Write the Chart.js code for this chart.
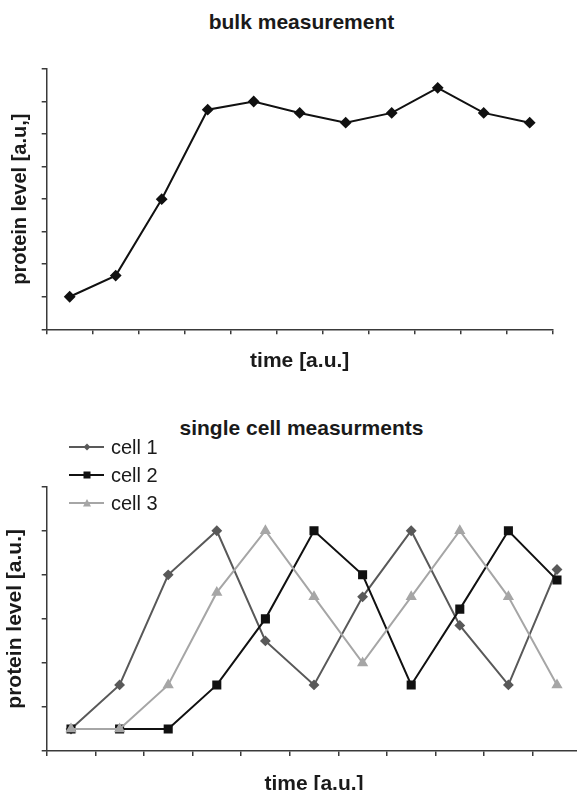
<!DOCTYPE html>
<html>
<head>
<meta charset="utf-8">
<script src="https://cdn.jsdelivr.net/npm/chart.js@4.4.1/dist/chart.umd.min.js"></script>
<style>
    body { margin: 0; background: #fff; overflow: hidden; width: 577px; height: 790px; position: relative; }
    .chart-title { position: absolute; left: 0; width: 603px; text-align: center; font: bold 21px "Liberation Sans", Arial, sans-serif; line-height: 25px; color: #1a1a1a; }
    .chart-box { position: absolute; left: 0; }
    .legend { position: absolute; left: 69px; top: 433px; font: 20px "Liberation Sans", Arial, sans-serif; color: #1a1a1a; }
    .legend-row { display: flex; align-items: center; height: 28px; }
    .legend-row svg { margin-right: 7px; }
</style>
</head>
<body>
<div class="chart-title" style="top: 9px;">bulk measurement</div>
<div class="chart-box" style="top: 0;"><canvas id="bulkChart" width="577" height="395"></canvas></div>

<div class="chart-title" style="top: 415px;">single cell measurments</div>
<div class="chart-box" style="top: 395px;"><canvas id="cellChart" width="600" height="410"></canvas></div>
<div class="legend" id="cellLegend"></div>

<script>
    // values, y in tick units
    const timePoints = ['1', '2', '3', '4', '5', '6', '7', '8', '9', '10', '11'];
    const bulkValues = [1, 1.65, 4, 6.75, 7, 6.65, 6.35, 6.65, 7.42, 6.65, 6.35];
    const cell1Values = [0.5, 1.5, 4, 5, 2.5, 1.5, 3.5, 5, 2.85, 1.5, 4.12];
    const cell2Values = [0.5, 0.5, 0.5, 1.5, 3, 5, 4, 1.5, 3.22, 5, 3.88];
    const cell3Values = [0.5, 0.5, 1.5, 3.6, 5, 3.5, 2, 3.5, 5, 3.5, 1.5];

    const fontFamily = '"Liberation Sans", Arial, sans-serif';
    const axisColor = '#3a3a3a';

    function axisBase() {
        return {
            grid: { display: true, drawOnChartArea: false, drawTicks: true, tickLength: 5, color: axisColor, lineWidth: 1.5 },
            border: { display: true, color: axisColor, width: 1.5 },
            ticks: { display: false }
        };
    }

    function configLineChart(canvasId, datasets, opts) {
        const ctx = document.getElementById(canvasId);
        const xAxis = axisBase();
        xAxis.offset = true;
        xAxis.grid.offset = true;
        xAxis.title = {
            display: true,
            text: 'time [a.u.]',
            color: '#1a1a1a',
            font: { family: fontFamily, size: 21, weight: 'bold' },
            padding: { top: opts.xTitlePad, bottom: 4 }
        };

        const yAxis = axisBase();
        yAxis.min = 0;
        yAxis.max = opts.yMax;
        yAxis.ticks.stepSize = 1;
        yAxis.title = {
            display: true,
            text: opts.yTitle,
            color: '#1a1a1a',
            font: { family: fontFamily, size: opts.yTitleSize, weight: 'bold' },
            padding: { top: opts.yTitlePad, bottom: 4 }
        };
        yAxis.afterFit = function (scale) {
            scale.width = 46.7 - opts.padding.left;
        };

        return new Chart(ctx, {
            type: 'line',
            data: {
                labels: timePoints,
                datasets: datasets
            },
            options: {
                responsive: false,
                animation: false,
                layout: { padding: opts.padding },
                plugins: {
                    legend: { display: false },
                    title: { display: false },
                    tooltip: { enabled: false }
                },
                scales: {
                    x: xAxis,
                    y: yAxis
                }
            }
        });
    }

    configLineChart('bulkChart', [
        {
            label: 'bulk',
            data: bulkValues,
            borderColor: '#111',
            backgroundColor: '#111',
            borderWidth: 2,
            pointStyle: 'rectRot',
            pointRadius: 4.5,
            tension: 0
        }
    ], {
        yMax: 8,
        yTitle: 'protein level [a.u,]',
        yTitleSize: 20,
        yTitlePad: 4,
        xTitlePad: 14,
        padding: { left: 4, right: 24.3, top: 69, bottom: 17.5 }
    });

    const cellSeries = [
        { label: 'cell 1', data: cell1Values, color: '#595959', pointStyle: 'rectRot', pointRadius: 4, order: 2 },
        { label: 'cell 2', data: cell2Values, color: '#111111', pointStyle: 'rect', pointRadius: 5, order: 1 },
        { label: 'cell 3', data: cell3Values, color: '#a6a6a6', pointStyle: 'triangle', pointRadius: 4.5, order: 0 }
    ];

    configLineChart('cellChart', cellSeries.map(function (s) {
        return {
            label: s.label,
            data: s.data,
            borderColor: s.color,
            backgroundColor: s.color,
            borderWidth: 2,
            pointStyle: s.pointStyle,
            pointRadius: s.pointRadius,
            order: s.order,
            tension: 0
        };
    }), {
        yMax: 6,
        yTitle: 'protein level [a.u.]',
        yTitleSize: 21,
        yTitlePad: 0,
        xTitlePad: 15.4,
        padding: { left: 3, right: 18.7, top: 91.7, bottom: 4.4 }
    });

    // legend sits over the plot like the original, so it is plain html
    function markerSvg(style, color) {
        let mark = '';
        if (style === 'rectRot') {
            mark = '<polygon points="18,1.5 21.5,5 18,8.5 14.5,5" fill="' + color + '"/>';
        } else if (style === 'rect') {
            mark = '<rect x="14.5" y="1.5" width="7" height="7" fill="' + color + '"/>';
        } else {
            mark = '<polygon points="18,1 22,8.5 14,8.5" fill="' + color + '"/>';
        }
        return '<svg width="35" height="10"><line x1="0" y1="5" x2="35" y2="5" stroke="' + color + '" stroke-width="2"/>' + mark + '</svg>';
    }

    document.getElementById('cellLegend').innerHTML = cellSeries.map(function (s) {
        return '<div class="legend-row">' + markerSvg(s.pointStyle, s.color) + '<span>' + s.label + '</span></div>';
    }).join('');
</script>
</body>
</html>
